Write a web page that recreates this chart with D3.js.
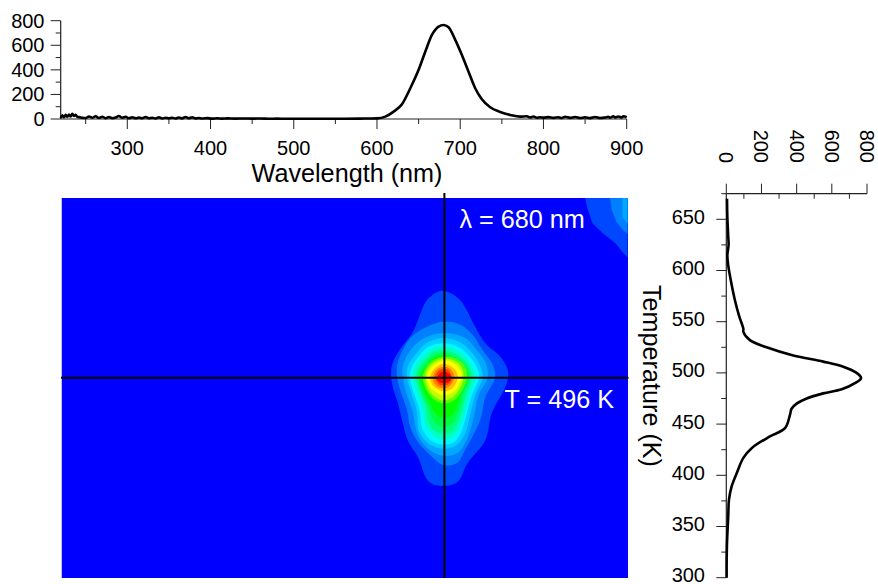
<!DOCTYPE html>
<html><head><meta charset="utf-8">
<script src="https://cdn.jsdelivr.net/npm/d3@7"></script>
<style>
html,body{margin:0;padding:0;background:#fff}
svg{display:block}
text{font-family:"Liberation Sans",Arial,sans-serif;fill:#000}
</style></head><body>
<svg id="c" width="878" height="584"></svg>
<script>
// ---- data ----
const spectrumWavelength = [220,222,224,226,228,230,232,234,236,238,240,243,246,250,254,258,262,266,270,274,278,282,286,290,294,298,302,306,310,314,318,322,326,330,334,338,342,346,350,354,358,362,366,370,374,378,382,386,390,396,402,408,414,420,430,440,450,460,470,480,490,500,520,540,560,580,590,
  600,610,620,630,640,650,658,666,674,680,686,694,702,710,718,726,736,748,760,772,780,784,788,792,796,800,806,812,818,822,826,832,838,844,850,856,862,868,874,878,880,884,886,890,894,896,900];
const spectrumIntensity = [8,30,14,34,18,36,20,42,24,34,18,14,10,8,20,10,22,8,18,6,16,6,12,24,10,18,6,14,6,12,6,16,6,10,4,14,4,10,6,10,4,12,5,16,6,14,5,8,4,7,3,6,3,5,3,4,3,4,2,3,2,2,2,2,2,3,4,
  5,19,60,120,250,400,548,684,752,765,747,644,521,385,250,160,95,57,33,19,22,12,20,10,14,11,15,9,14,8,18,9,16,8,14,7,16,8,12,18,10,22,12,20,12,22,14];

const profileTemperature = [300,314,334,360,376,389,402,417,426.5,438,446,459,465,470,475,480,484,490,495,500,506,511,517,525,532,540,543,555,571,591,605,615,625,633,652,670];
const profileIntensity   = [2,2,4,11,15,30,59,97,144,248,334,362,371,400,457,551,656,731,766,741,665,551,381,229,134,97,97,74,49,25,11,6,13,11,6,4];

const xMajor = [300,400,500,600,700,800,900];
const xMinor = [250,350,450,550,650,750,850];
const yMajor = [0,200,400,600,800];
const yMinor = [100,300,500,700];
const tMajor = [300,350,400,450,500,550,600,650];
const tMinor = [325,375,425,475,525,575,625,675];

const crossWavelength = 680;
const crossTemperature = 496;

const backgroundColor = "#0000ff";
const levelColors = ["#0048ff","#0080ff","#00a8ff","#00d0ff","#00f8ff","#00ffc0","#00ff80","#00ff40","#00ff00","#60ff00","#c0ff00","#ffff00","#ffc000","#ff8000","#ff4000","#ff0000"];

const level01 = [[676,580],[660,571],[649,551],[643,540],[627,522],[619,510],[617,501],[619,486],[625,471],[630,454],[637,434],[649,418],[661,395],[673,390],[696,393],[709,412],[730,434],[738,461],[756,490],[757,503],[748,516],[730,529],[718,545],[708,561],[700,571],[688,578]];
const level02 = [[679,550],[660,545],[640,534],[625,510],[624,496],[628,483],[636,464],[640,447],[648,434],[661,422],[680,410],[696,412],[706,425],[724,454],[730,476],[742,496],[739,508],[727,522],[715,537],[700,547]];
const level03 = [[680,539],[657,534],[642,524],[631,507],[631,496],[635,481],[643,462],[647,444],[656,430],[671,421],[683,419],[697,422],[709,437],[716,456],[722,478],[733,496],[731,509],[719,523],[706,534]];
const level04 = [[680,534],[661,530],[648,520],[637,507],[636,496],[641,481],[648,462],[650,444],[659,433],[672,427],[683,426],[695,429],[706,441],[712,459],[718,478],[727,496],[724,507],[714,520],[700,530]];
const level05 = [[680,529],[663,526],[651,517],[642,506],[639,496],[644,481],[651,464],[654,447],[661,437],[672,431],[683,430],[694,433],[702,444],[708,461],[714,478],[723,496],[719,507],[709,518],[696,526]];
const level06 = [[680,526],[665,523],[654,515],[645,505],[643,496],[648,481],[655,464],[658,450],[665,441],[673,436],[684,435],[692,438],[700,448],[706,463],[711,478],[718,496],[714,507],[706,516],[694,523]];
const level07 = [[680,522],[667,520],[658,513],[649,504],[647,496],[652,481],[659,466],[661,454],[667,445],[676,441],[685,441],[692,444],[698,453],[703,466],[707,478],[714,496],[711,506],[702,515],[691,520]];
const level08 = [[680,520],[668,517],[660,511],[653,503],[650,496],[654,481],[661,469],[665,459],[671,450],[679,447],[686,448],[692,452],[697,460],[701,469],[704,480],[712,496],[708,505],[700,512],[690,517]];
const level09 = [[680,517],[669,515],[662,509],[655,502],[652,496],[656,482],[663,471],[668,463],[675,457],[683,456],[690,459],[695,466],[699,474],[702,483],[708,496],[704,504],[697,511],[689,515]];
const level10 = [[680,516],[667,512],[659,505],[655,496],[659,484],[667,475],[680,470],[694,474],[703,484],[708,496],[705,507],[694,514]];
const level11 = [[680,514],[668,510],[661,504],[658,496],[661,485],[669,477],[680,473],[692,477],[700,486],[704,496],[701,506],[692,512]];
const level12 = [[680,512],[670,509],[663,503],[660,496],[663,487],[671,481],[680,478],[691,481],[698,488],[702,496],[699,504],[691,510]];
const level13 = [[680,509],[672,506],[666,501],[664,496],[666,489],[673,484],[680,482],[689,484],[695,490],[697,496],[695,502],[688,507]];
const level14 = [[680,506],[673,504],[669,500],[667,495],[669,490],[674,486],[680,485],[687,487],[691,491],[693,496],[691,501],[686,505]];
const level15 = [[680,504],[674,502],[671,499],[670,495],[672,491],[676,488],[681,488],[686,489],[689,492],[690,496],[688,500],[685,503]];
const level16 = [[680,501],[676,500],[673,497],[672,494],[675,491],[680,490],[686,491],[689,494],[688,498],[685,500]];
const levels = [level01,level02,level03,level04,level05,level06,level07,level08,level09,level10,level11,level12,level13,level14,level15,level16];

const corner1 = [[850,671],[853,660],[859,646],[872,636],[886,627],[896,617],[901,613],[901,671]];
const corner2 = [[880,671],[882,659],[888,647],[896,639],[901,636],[901,671]];
const corner3 = [[895,671],[895,652],[901,646],[901,671]];

// ---- layout ----
const svg = d3.select("#c");
const x = d3.scaleLinear().domain([220,900]).range([60.7,626.7]);
const yTop = d3.scaleLinear().domain([0,800]).range([119,20.7]);
const t = d3.scaleLinear().domain([300,675]).range([577.7,193.7]);
const v = d3.scaleLinear().domain([0,800]).range([726.3,867]);

const tickFont = 20, labelFont = 25.2, axisCol = "#222";

// ---- heat map ----
svg.append("clipPath").attr("id","heat").append("rect")
  .attr("x",61.5).attr("y",198).attr("width",566.5).attr("height",380);
const heat = svg.append("g").attr("clip-path","url(#heat)");
heat.append("rect").attr("x",61.5).attr("y",198).attr("width",566.5).attr("height",380).attr("fill",backgroundColor);

const poly = d3.line().x(d=>x(d[0])).y(d=>t(d[1])).curve(d3.curveLinearClosed);
[corner1,corner2,corner3].forEach((c,i)=>{
  heat.append("path").attr("d",poly(c)).attr("fill",levelColors[i]);
});
const smooth = d3.line().x(d=>x(d[0])).y(d=>t(d[1])).curve(d3.curveCatmullRomClosed.alpha(0.5));
heat.selectAll("path.lev").data(levels).join("path").attr("class","lev")
  .attr("d",d=>smooth(d)).attr("fill",(d,i)=>levelColors[i]);

// crosshair
svg.append("line").attr("x1",x(crossWavelength)+.8).attr("x2",x(crossWavelength)+.8).attr("y1",193).attr("y2",578)
  .attr("stroke","#000").attr("stroke-width",2);
svg.append("line").attr("x1",61).attr("x2",628.5).attr("y1",t(crossTemperature)+.8).attr("y2",t(crossTemperature)+.8)
  .attr("stroke","#000").attr("stroke-width",2);

svg.append("text").attr("x",459.5).attr("y",228).attr("font-size",labelFont).style("fill","#fff").text("\u03bb = 680 nm");
svg.append("text").attr("x",504.5).attr("y",408).attr("font-size",labelFont).style("fill","#fff").text("T = 496 K");

// ---- top spectrum ----
const topG = svg.append("g");
topG.append("line").attr("x1",x(220)).attr("x2",x(900)).attr("y1",yTop(0)).attr("y2",yTop(0)).attr("stroke",axisCol).attr("stroke-width",1.2);
topG.append("line").attr("x1",x(220)).attr("x2",x(220)).attr("y1",yTop(800)).attr("y2",yTop(0)).attr("stroke",axisCol).attr("stroke-width",1.2);
topG.selectAll("line.xM").data(xMajor).join("line").attr("class","xM")
  .attr("x1",d=>x(d)).attr("x2",d=>x(d)).attr("y1",yTop(0)).attr("y2",yTop(0)+10).attr("stroke",axisCol).attr("stroke-width",1);
topG.selectAll("line.xm").data(xMinor).join("line").attr("class","xm")
  .attr("x1",d=>x(d)).attr("x2",d=>x(d)).attr("y1",yTop(0)).attr("y2",yTop(0)+5).attr("stroke",axisCol).attr("stroke-width",1);
topG.selectAll("line.yM").data(yMajor).join("line").attr("class","yM")
  .attr("x1",x(220)-10).attr("x2",x(220)).attr("y1",d=>yTop(d)).attr("y2",d=>yTop(d)).attr("stroke",axisCol).attr("stroke-width",1);
topG.selectAll("line.ym").data(yMinor).join("line").attr("class","ym")
  .attr("x1",x(220)-5).attr("x2",x(220)).attr("y1",d=>yTop(d)).attr("y2",d=>yTop(d)).attr("stroke",axisCol).attr("stroke-width",1);
topG.selectAll("text.xl").data(xMajor).join("text").attr("class","xl")
  .attr("x",d=>x(d)).attr("y",155).attr("text-anchor","middle").attr("font-size",tickFont).text(d=>d);
topG.selectAll("text.yl").data(yMajor).join("text").attr("class","yl")
  .attr("x",44.5).attr("y",d=>yTop(d)+7).attr("text-anchor","end").attr("font-size",tickFont).text(d=>d);
topG.append("text").attr("x",347).attr("y",182).attr("text-anchor","middle").attr("font-size",labelFont).text("Wavelength (nm)");
topG.append("path").datum(spectrumWavelength.map((w,i)=>[w,spectrumIntensity[i]]))
  .attr("d",d3.line().x(d=>x(d[0])).y(d=>yTop(d[1])).curve(d3.curveMonotoneX))
  .attr("fill","none").attr("stroke","#000").attr("stroke-width",2.6).attr("stroke-linejoin","round");

// ---- right profile ----
const side = svg.append("g");
side.append("line").attr("x1",v(0)).attr("x2",v(0)).attr("y1",t(675)).attr("y2",t(300)).attr("stroke",axisCol).attr("stroke-width",1.2);
side.append("line").attr("x1",v(0)).attr("x2",v(800)).attr("y1",t(675)).attr("y2",t(675)).attr("stroke",axisCol).attr("stroke-width",1.2);
side.selectAll("line.vM").data(yMajor).join("line").attr("class","vM")
  .attr("x1",d=>v(d)).attr("x2",d=>v(d)).attr("y1",t(675)-10).attr("y2",t(675)).attr("stroke",axisCol).attr("stroke-width",1);
side.selectAll("line.vm").data(yMinor).join("line").attr("class","vm")
  .attr("x1",d=>v(d)).attr("x2",d=>v(d)).attr("y1",t(675)).attr("y2",t(675)+5).attr("stroke",axisCol).attr("stroke-width",1);
side.selectAll("line.tM").data(tMajor).join("line").attr("class","tM")
  .attr("x1",v(0)-10).attr("x2",v(0)).attr("y1",d=>t(d)).attr("y2",d=>t(d)).attr("stroke",axisCol).attr("stroke-width",1);
side.selectAll("line.tm").data(tMinor).join("line").attr("class","tm")
  .attr("x1",v(0)-5).attr("x2",v(0)).attr("y1",d=>t(d)).attr("y2",d=>t(d)).attr("stroke",axisCol).attr("stroke-width",1);
side.selectAll("text.tl").data(tMajor).join("text").attr("class","tl")
  .attr("x",705).attr("y",d=>t(d)+4.5).attr("text-anchor","end").attr("font-size",tickFont).text(d=>d);
side.selectAll("text.vl").data(yMajor).join("text").attr("class","vl")
  .attr("text-anchor","end").attr("font-size",tickFont)
  .attr("transform",d=>`translate(${v(d)-7},163) rotate(90)`).text(d=>d);
side.append("text").attr("font-size",labelFont)
  .attr("transform","translate(643,285) rotate(90)").text("Temperature (K)");
side.append("path").datum(profileTemperature.map((T,i)=>[profileIntensity[i],T]))
  .attr("d",d3.line().x(d=>v(d[0])).y(d=>t(d[1])).curve(d3.curveCatmullRom.alpha(0.5)))
  .attr("fill","none").attr("stroke","#000").attr("stroke-width",2.6).attr("stroke-linejoin","round");
</script>
</body></html>
